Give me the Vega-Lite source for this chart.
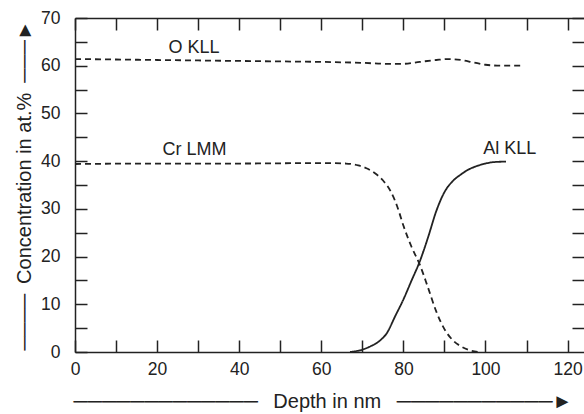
{
  "$schema": "https://vega.github.io/schema/vega-lite/v6.json",
  "width": 509,
  "height": 334,
  "autosize": {"type": "none"},
  "padding": {"left": 75, "top": 18, "right": 0, "bottom": 62},
  "background": "white",
  "config": {
    "view": {"stroke": null},
    "font": "Liberation Sans",
    "axis": {
      "grid": false,
      "domainColor": "#222",
      "domainWidth": 1.5,
      "tickColor": "#222",
      "tickWidth": 1.5,
      "tickSize": -12,
      "labelFontSize": 17.5,
      "labelColor": "#222",
      "labelFlush": false,
      "titleFontSize": 20,
      "titleFontWeight": "normal",
      "titleColor": "#222",
      "titleFont": "Liberation Sans"
    }
  },
  "datasets": {
    "curves": [
      {"series": "O KLL", "depth": 0, "conc": 61.4},
      {"series": "O KLL", "depth": 10, "conc": 61.3},
      {"series": "O KLL", "depth": 20, "conc": 61.2},
      {"series": "O KLL", "depth": 30, "conc": 61.1},
      {"series": "O KLL", "depth": 40, "conc": 61.0},
      {"series": "O KLL", "depth": 50, "conc": 60.9},
      {"series": "O KLL", "depth": 60, "conc": 60.8},
      {"series": "O KLL", "depth": 70, "conc": 60.6},
      {"series": "O KLL", "depth": 76, "conc": 60.4},
      {"series": "O KLL", "depth": 80, "conc": 60.4},
      {"series": "O KLL", "depth": 84, "conc": 60.8},
      {"series": "O KLL", "depth": 88, "conc": 61.2},
      {"series": "O KLL", "depth": 91, "conc": 61.4},
      {"series": "O KLL", "depth": 94, "conc": 61.2},
      {"series": "O KLL", "depth": 97, "conc": 60.7},
      {"series": "O KLL", "depth": 100, "conc": 60.2},
      {"series": "O KLL", "depth": 104, "conc": 60.0},
      {"series": "O KLL", "depth": 108.5, "conc": 60.0},
      {"series": "Cr LMM", "depth": 0, "conc": 39.4},
      {"series": "Cr LMM", "depth": 20, "conc": 39.5},
      {"series": "Cr LMM", "depth": 40, "conc": 39.5},
      {"series": "Cr LMM", "depth": 60, "conc": 39.6},
      {"series": "Cr LMM", "depth": 66, "conc": 39.5},
      {"series": "Cr LMM", "depth": 69, "conc": 39.1},
      {"series": "Cr LMM", "depth": 71, "conc": 38.5},
      {"series": "Cr LMM", "depth": 73, "conc": 37.5},
      {"series": "Cr LMM", "depth": 75, "conc": 36.0},
      {"series": "Cr LMM", "depth": 77, "conc": 33.5},
      {"series": "Cr LMM", "depth": 78.5, "conc": 30.5},
      {"series": "Cr LMM", "depth": 80, "conc": 26.5},
      {"series": "Cr LMM", "depth": 82, "conc": 22.0},
      {"series": "Cr LMM", "depth": 84, "conc": 18.3},
      {"series": "Cr LMM", "depth": 86, "conc": 13.5},
      {"series": "Cr LMM", "depth": 88, "conc": 8.5},
      {"series": "Cr LMM", "depth": 90, "conc": 4.8},
      {"series": "Cr LMM", "depth": 92, "conc": 2.5},
      {"series": "Cr LMM", "depth": 94, "conc": 1.2},
      {"series": "Cr LMM", "depth": 96, "conc": 0.4},
      {"series": "Cr LMM", "depth": 98.5, "conc": 0.0},
      {"series": "Al KLL", "depth": 67, "conc": 0.0},
      {"series": "Al KLL", "depth": 70, "conc": 0.5},
      {"series": "Al KLL", "depth": 72, "conc": 1.2},
      {"series": "Al KLL", "depth": 74, "conc": 2.2},
      {"series": "Al KLL", "depth": 76, "conc": 4.0},
      {"series": "Al KLL", "depth": 78, "conc": 7.5},
      {"series": "Al KLL", "depth": 80, "conc": 11.0},
      {"series": "Al KLL", "depth": 82, "conc": 15.0},
      {"series": "Al KLL", "depth": 84, "conc": 19.0},
      {"series": "Al KLL", "depth": 86, "conc": 24.0},
      {"series": "Al KLL", "depth": 88, "conc": 29.5},
      {"series": "Al KLL", "depth": 90, "conc": 33.5},
      {"series": "Al KLL", "depth": 92, "conc": 35.8},
      {"series": "Al KLL", "depth": 94, "conc": 37.2},
      {"series": "Al KLL", "depth": 96, "conc": 38.3},
      {"series": "Al KLL", "depth": 98, "conc": 39.0},
      {"series": "Al KLL", "depth": 100, "conc": 39.5},
      {"series": "Al KLL", "depth": 102, "conc": 39.8},
      {"series": "Al KLL", "depth": 105, "conc": 39.9}
    ],
    "labels": [
      {"label": "O KLL", "depth": 29, "conc": 63.7},
      {"label": "Cr LMM", "depth": 29.1, "conc": 42.4},
      {"label": "Al KLL", "depth": 105.9, "conc": 42.6}
    ]
  },
  "layer": [
    {
      "data": {"name": "curves"},
      "mark": {"type": "line", "interpolate": "monotone", "strokeWidth": 1.8, "color": "#222"},
      "encoding": {
        "x": {
          "field": "depth", "type": "quantitative",
          "scale": {"domain": [0, 124], "nice": false, "zero": false},
          "axis": {
            "orient": "bottom",
            "values": [0, 10, 20, 30, 40, 50, 60, 70, 80, 90, 100, 110, 120],
            "labelExpr": "datum.value % 20 == 0 ? datum.label : ''",
            "labelPadding": 20,
            "title": "─────────────\u00a0\u2002Depth in nm\u2002\u00a0───────────►",
            "titleAnchor": "middle",
            "titleBaseline": "alphabetic",
            "titleX": 247.5,
            "titleY": 55
          }
        },
        "y": {
          "field": "conc", "type": "quantitative",
          "scale": {"domain": [0, 70], "nice": false},
          "axis": {
            "orient": "left",
            "values": [0, 5, 10, 15, 20, 25, 30, 35, 40, 45, 50, 55, 60, 65, 70],
            "labelExpr": "datum.value % 10 == 0 ? datum.label : ''",
            "labelPadding": 27,
            "title": "────\u2002Concentration in at.%\u2002───►",
            "titleAngle": -90,
            "titleAnchor": "middle",
            "titleBaseline": "alphabetic",
            "titleX": -45,
            "titleY": 167
          }
        },
        "detail": {"field": "series"},
        "strokeDash": {
          "field": "series", "type": "nominal",
          "scale": {"domain": ["O KLL", "Cr LMM", "Al KLL"], "range": [[6, 4], [6, 4], [1, 0]]},
          "legend": null
        }
      }
    },
    {
      "data": {"name": "labels"},
      "mark": {"type": "text", "fontSize": 18, "color": "#222", "align": "center", "baseline": "middle"},
      "encoding": {
        "x": {
          "field": "depth", "type": "quantitative",
          "axis": {
            "orient": "top",
            "values": [0, 10, 20, 30, 40, 50, 60, 70, 80, 90, 100, 110, 120],
            "labels": false,
            "title": null
          }
        },
        "y": {
          "field": "conc", "type": "quantitative",
          "axis": {
            "orient": "right",
            "values": [5, 10, 15, 20, 25, 30, 35, 40, 45, 50, 55, 60, 65, 70],
            "labels": false,
            "domain": false,
            "title": null
          }
        },
        "text": {"field": "label"}
      }
    }
  ],
  "resolve": {"axis": {"x": "independent", "y": "independent"}}
}
